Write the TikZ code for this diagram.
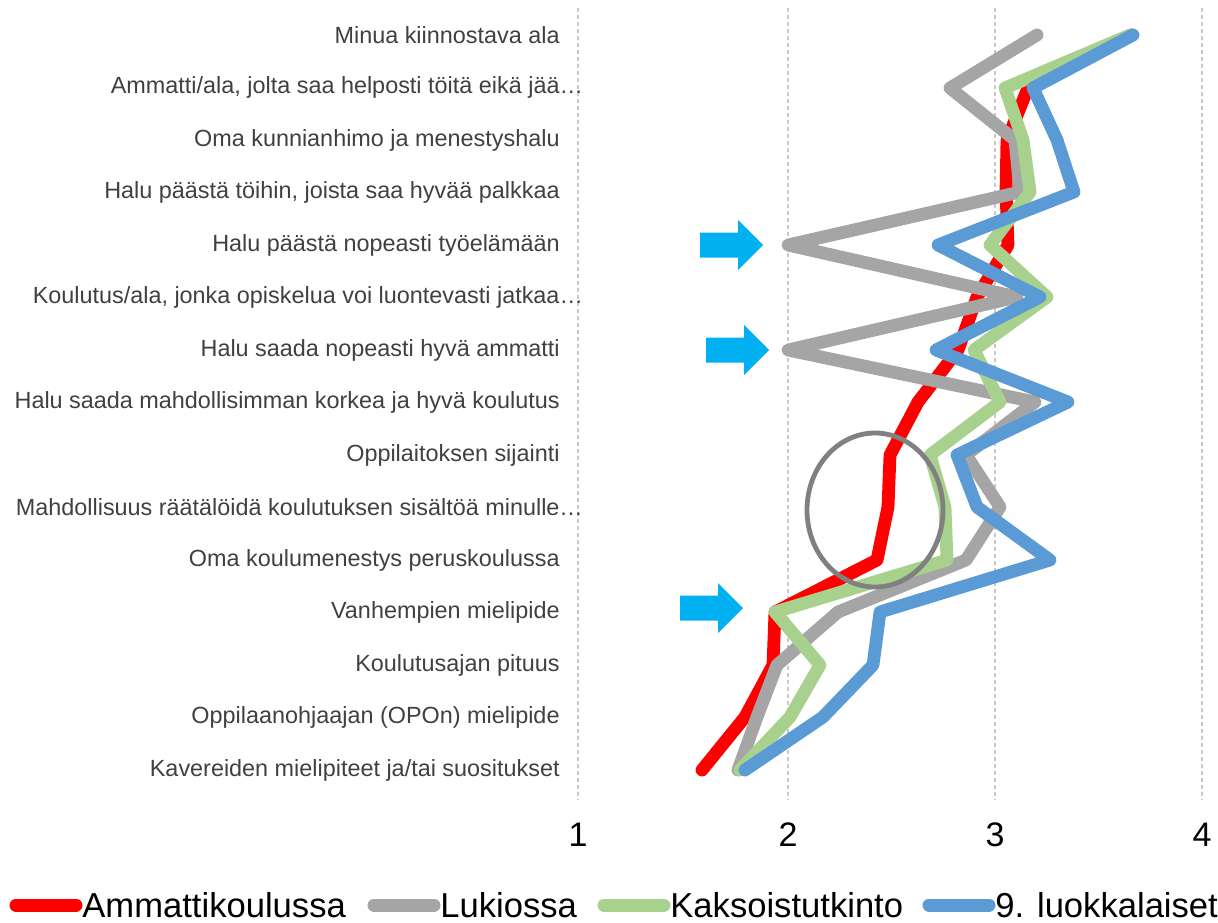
\documentclass[tikz,border=0pt]{standalone}
\usepackage{fontspec}
\setmainfont{Liberation Sans}

\definecolor{amkred}{HTML}{FF0000}
\definecolor{lukgray}{HTML}{A5A5A5}
\definecolor{kaksgreen}{HTML}{A9D18E}
\definecolor{ysiblue}{HTML}{5B9BD5}
\definecolor{nuoli}{HTML}{00B0F0}
\definecolor{teksti}{HTML}{404040}
\definecolor{ruudukko}{HTML}{C8C8C8}
\definecolor{rengas}{HTML}{808080}

\tikzset{
  sarja/.style={line width=6.4pt, line cap=round, line join=round},
  luokka/.style={anchor=east, text=teksti, font=\fontsize{11.7}{14}\selectfont, inner sep=0pt},
  akseli/.style={font=\fontsize{17}{20}\selectfont, inner sep=0pt},
  selite/.style={anchor=west, font=\fontsize{17.3}{20}\selectfont, inner sep=0pt},
}

\begin{document}
\begin{tikzpicture}[x=0.5pt,y=-0.5pt]
\useasboundingbox (0,0) rectangle (1218,922);

%ruudukko
\foreach \v/\px in {1/578,2/788,3/995,4/1202}{
  \draw[ruudukko, line width=0.6pt, dash pattern=on 2pt off 1.5pt] (\px,8) -- (\px,800);
  \node[akseli] (x\v) at (\px,835) {\v};
}

%luokat
\foreach \t [count=\i] in {Minua kiinnostava ala,
  {Ammatti/ala, jolta saa helposti töitä eikä jää\rlap{…}},
  Oma kunnianhimo ja menestyshalu,
  {Halu päästä töihin, joista saa hyvää palkkaa},
  Halu päästä nopeasti työelämään,
  {Koulutus/ala, jonka opiskelua voi luontevasti jatkaa\rlap{…}},
  Halu saada nopeasti hyvä ammatti,
  Halu saada mahdollisimman korkea ja hyvä koulutus,
  Oppilaitoksen sijainti,
  Mahdollisuus räätälöidä koulutuksen sisältöä minulle\rlap{…},
  Oma koulumenestys peruskoulussa,
  Vanhempien mielipide,
  Koulutusajan pituus,
  Oppilaanohjaajan (OPOn) mielipide,
  Kavereiden mielipiteet ja/tai suositukset}
  \node[luokka] (c\i) at (560,{35+52.5*(\i-1)}) {\t};

%sarjat
\draw[sarja, amkred] plot coordinates {(1131,35) (1028,88) (1007,140) (1006,192) (1008,245) (977,297) (958,350) (918,402) (890,455) (888,507) (877,560) (775,612) (773,665) (745,717) (702,770)};
\draw[sarja, lukgray] plot coordinates {(1037,35) (950,88) (1015,140) (1020,192) (788,245) (1017,297) (788,350) (1035,402) (966,455) (1000,507) (966,560) (838,612) (777,665) (757,717) (738,770)};
\draw[sarja, kaksgreen] plot coordinates {(1130,35) (1005,88) (1023,140) (1030,192) (990,245) (1047,297) (974,350) (1000,402) (930,455) (945,507) (947,560) (775,612) (820,665) (790,717) (740,770)};
\draw[sarja, ysiblue] plot coordinates {(1133,35) (1033,88) (1057,140) (1074,192) (938,245) (1040,297) (936,350) (1068,402) (957,455) (977,507) (1050,560) (880,612) (873,665) (823,717) (745,770)};

%rengas
\draw[rengas, line width=2.4pt] (875,510) coordinate (keski) ellipse[x radius=68, y radius=77];

%nuolet
\foreach \x/\y in {700/245, 706/350, 680/608}
  \fill[nuoli] (\x,\y-12.5) -- (\x+38,\y-12.5) -- (\x+38,\y-25) -- (\x+63,\y)
    -- (\x+38,\y+25) -- (\x+38,\y+12.5) -- (\x,\y+12.5) -- cycle;

%selite
\foreach \nimi/\vari/\xa in {Ammattikoulussa/amkred/16, Lukiossa/lukgray/374, Kaksoistutkinto/kaksgreen/604, 9. luokkalaiset/ysiblue/929}{
  \draw[\vari, line width=6.5pt, line cap=round] (\xa,905) -- (\xa+60,905);
  \node[selite] (s\xa) at (\xa+66,905) {\nimi};
}

\end{tikzpicture}
\end{document}
